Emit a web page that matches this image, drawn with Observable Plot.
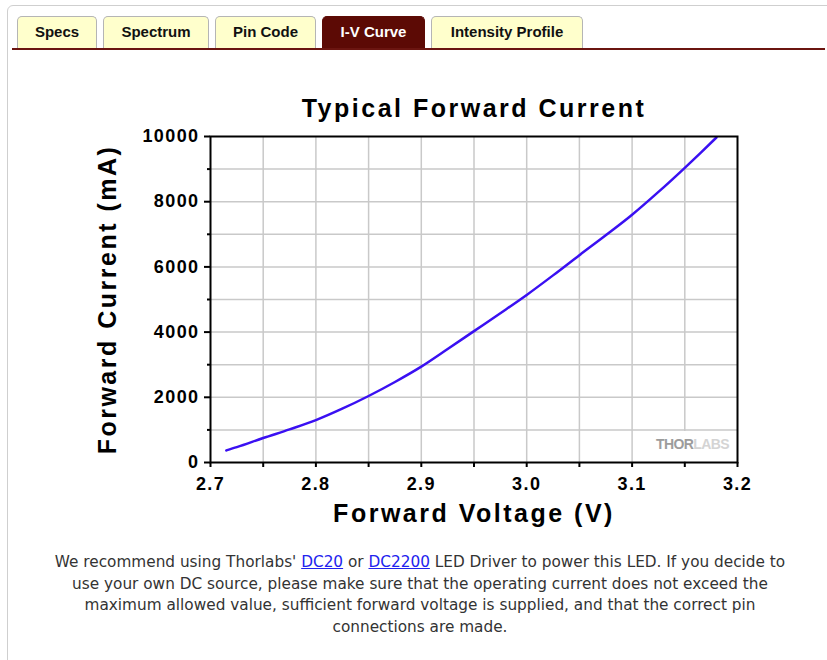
<!DOCTYPE html>
<html>
<head>
<meta charset="utf-8">
<script src="https://cdn.jsdelivr.net/npm/d3@7"></script>
<script src="https://cdn.jsdelivr.net/npm/@observablehq/plot@0.6"></script>
<style>
  body { margin: 0; background: #fff; font-family: "Liberation Sans", Arial, sans-serif; }
  #page { position: relative; width: 827px; height: 660px; overflow: hidden; }
  #box { position: absolute; left: 7px; top: 5px; width: 900px; height: 800px; border: 1px solid #cfcfcf; border-radius: 6px 0 0 0; }
  .tab { position: absolute; top: 16px; height: 32px; box-sizing: border-box; background: #ffffcc; border: 1px solid #b5b5b5; border-bottom: none; border-radius: 5px 5px 0 0; font-weight: bold; font-size: 15px; line-height: 30px; text-align: center; color: #111; }
  .tab.active { background: #5c0a05; border-color: #5c0a05; color: #fff; }
  #redline { position: absolute; left: 12px; top: 48px; width: 813px; height: 2px; background: #6b1510; }
  #chart { position: absolute; left: 0; top: 60px; }
  #wm { position: absolute; left: 640px; top: 431px; width: 95px; height: 29.5px; background: #fff; }
  #wm span.t { position: absolute; right: 6px; top: 5px; font-size: 14px; font-weight: bold; letter-spacing: -0.6px; }
  #caption { position: absolute; left: 0; width: 840px; top: 552px; text-align: center; font-family: "DejaVu Sans", sans-serif; font-size: 15.3px; line-height: 21.5px; color: #333; }
  #caption a { color: #2222ee; text-decoration: underline; }
</style>
</head>
<body>
<div id="page">
  <div id="box"></div>
  <div class="tab" style="left:17px;width:80px">Specs</div>
  <div class="tab" style="left:103px;width:106px">Spectrum</div>
  <div class="tab" style="left:215px;width:101px">Pin Code</div>
  <div class="tab active" style="left:322px;width:103px">I-V Curve</div>
  <div class="tab" style="left:431px;width:152px">Intensity Profile</div>
  <div id="redline"></div>
  <div id="chart"></div>
  <div id="wm"><span class="t"><span style="color:#9c9c9c">THOR</span><span style="color:#d4d4d4">LABS</span></span></div>
  <div id="caption">We recommend using Thorlabs' <a>DC20</a> or <a>DC2200</a> LED Driver to power this LED. If you decide to<br>use your own DC source, please make sure that the operating current does not exceed the<br>maximum allowed value, sufficient forward voltage is supplied, and that the correct pin<br>connections are made.</div>
</div>
<script>
// Forward voltage (V) and forward current (mA)
const voltage = [2.715, 2.725, 2.75, 2.775, 2.8, 2.825, 2.85, 2.875, 2.9, 2.925, 2.95, 2.975, 3.0, 3.025, 3.05, 3.075, 3.1, 3.125, 3.15, 3.165, 3.18];
const current = [370, 470, 750, 1015, 1300, 1650, 2040, 2470, 2940, 3480, 4030, 4580, 5140, 5740, 6360, 6970, 7600, 8300, 9040, 9500, 9970];

const xTickValues = [2.7, 2.75, 2.8, 2.85, 2.9, 2.95, 3.0, 3.05, 3.1, 3.15, 3.2];
const xTickLabels = ["2.7", "", "2.8", "", "2.9", "", "3.0", "", "3.1", "", "3.2"];
const yMajorTicks = [0, 2000, 4000, 6000, 8000, 10000];
const yMajorLabels = ["0", "2000", "4000", "6000", "8000", "10000"];
const yMinorTicks = [1000, 3000, 5000, 7000, 9000];
const yGrid = [1000, 2000, 3000, 4000, 5000, 6000, 7000, 8000, 9000];
const xGrid = [2.75, 2.8, 2.85, 2.9, 2.95, 3.0, 3.05, 3.1, 3.15];

const title = "Typical Forward Current";
const xLabel = "Forward Voltage (V)";
const yLabel = "Forward Current (mA)";

const data = voltage.map((v, i) => ({v, i: current[i]}));
const xLab = new Map(xTickValues.map((v, k) => [v, xTickLabels[k]]));
const yLab = new Map(yMajorTicks.map((v, k) => [v, yMajorLabels[k]]));

const chart = Plot.plot({
  width: 827,
  height: 500,
  marginLeft: 210,
  marginRight: 90,
  marginTop: 76,
  marginBottom: 98,
  x: {domain: [2.7, 3.2]},
  y: {domain: [0, 10000]},
  style: {fontFamily: "'Liberation Sans', Arial, sans-serif", color: "#000", background: "transparent", overflow: "visible"},
  marks: [
    Plot.gridX(xGrid, {stroke: "#c9c9c9", strokeOpacity: 1, strokeWidth: 1.5}),
    Plot.gridY(yGrid, {stroke: "#c9c9c9", strokeOpacity: 1, strokeWidth: 1.5}),
    Plot.axisX(xTickValues, {tickSize: 5, tickPadding: 10, strokeWidth: 2, fontSize: 18, fontWeight: "bold", tickFormat: d => xLab.get(d), label: null}),
    Plot.axisY(yMinorTicks, {tickSize: 3, strokeWidth: 2, tickFormat: () => "", label: null}),
    Plot.axisY(yMajorTicks, {tickSize: 6, tickPadding: 5, strokeWidth: 2, fontSize: 18, fontWeight: "bold", tickFormat: d => yLab.get(d), label: null}),
    Plot.line(data, {x: "v", y: "i", stroke: "#3a10f2", strokeWidth: 2.5, curve: "monotone-x"}),
    Plot.frame({stroke: "#000", strokeWidth: 2}),
    Plot.text([title], {text: d => d, frameAnchor: "top", lineAnchor: "middle", textAnchor: "middle", dy: -28, fontSize: 25, fontWeight: "bold"}),
    Plot.text([yLabel], {text: d => d, frameAnchor: "left", lineAnchor: "middle", textAnchor: "middle", rotate: -90, dx: -103, fontSize: 25, fontWeight: "bold"}),
    Plot.text([xLabel], {text: d => d, frameAnchor: "bottom", lineAnchor: "middle", textAnchor: "middle", dy: 51, fontSize: 25, fontWeight: "bold"})
  ]
});
document.getElementById("chart").appendChild(chart);
// letter spacing as in the reference's bold labels (after attaching, so styles compute)
d3.select(chart).selectAll("text").each(function () {
  const fs = parseFloat(getComputedStyle(this).fontSize);
  if (fs >= 24) this.style.letterSpacing = "2.5px";
  else if (fs >= 17) this.style.letterSpacing = "1.4px";
});
</script>
</body>
</html>
